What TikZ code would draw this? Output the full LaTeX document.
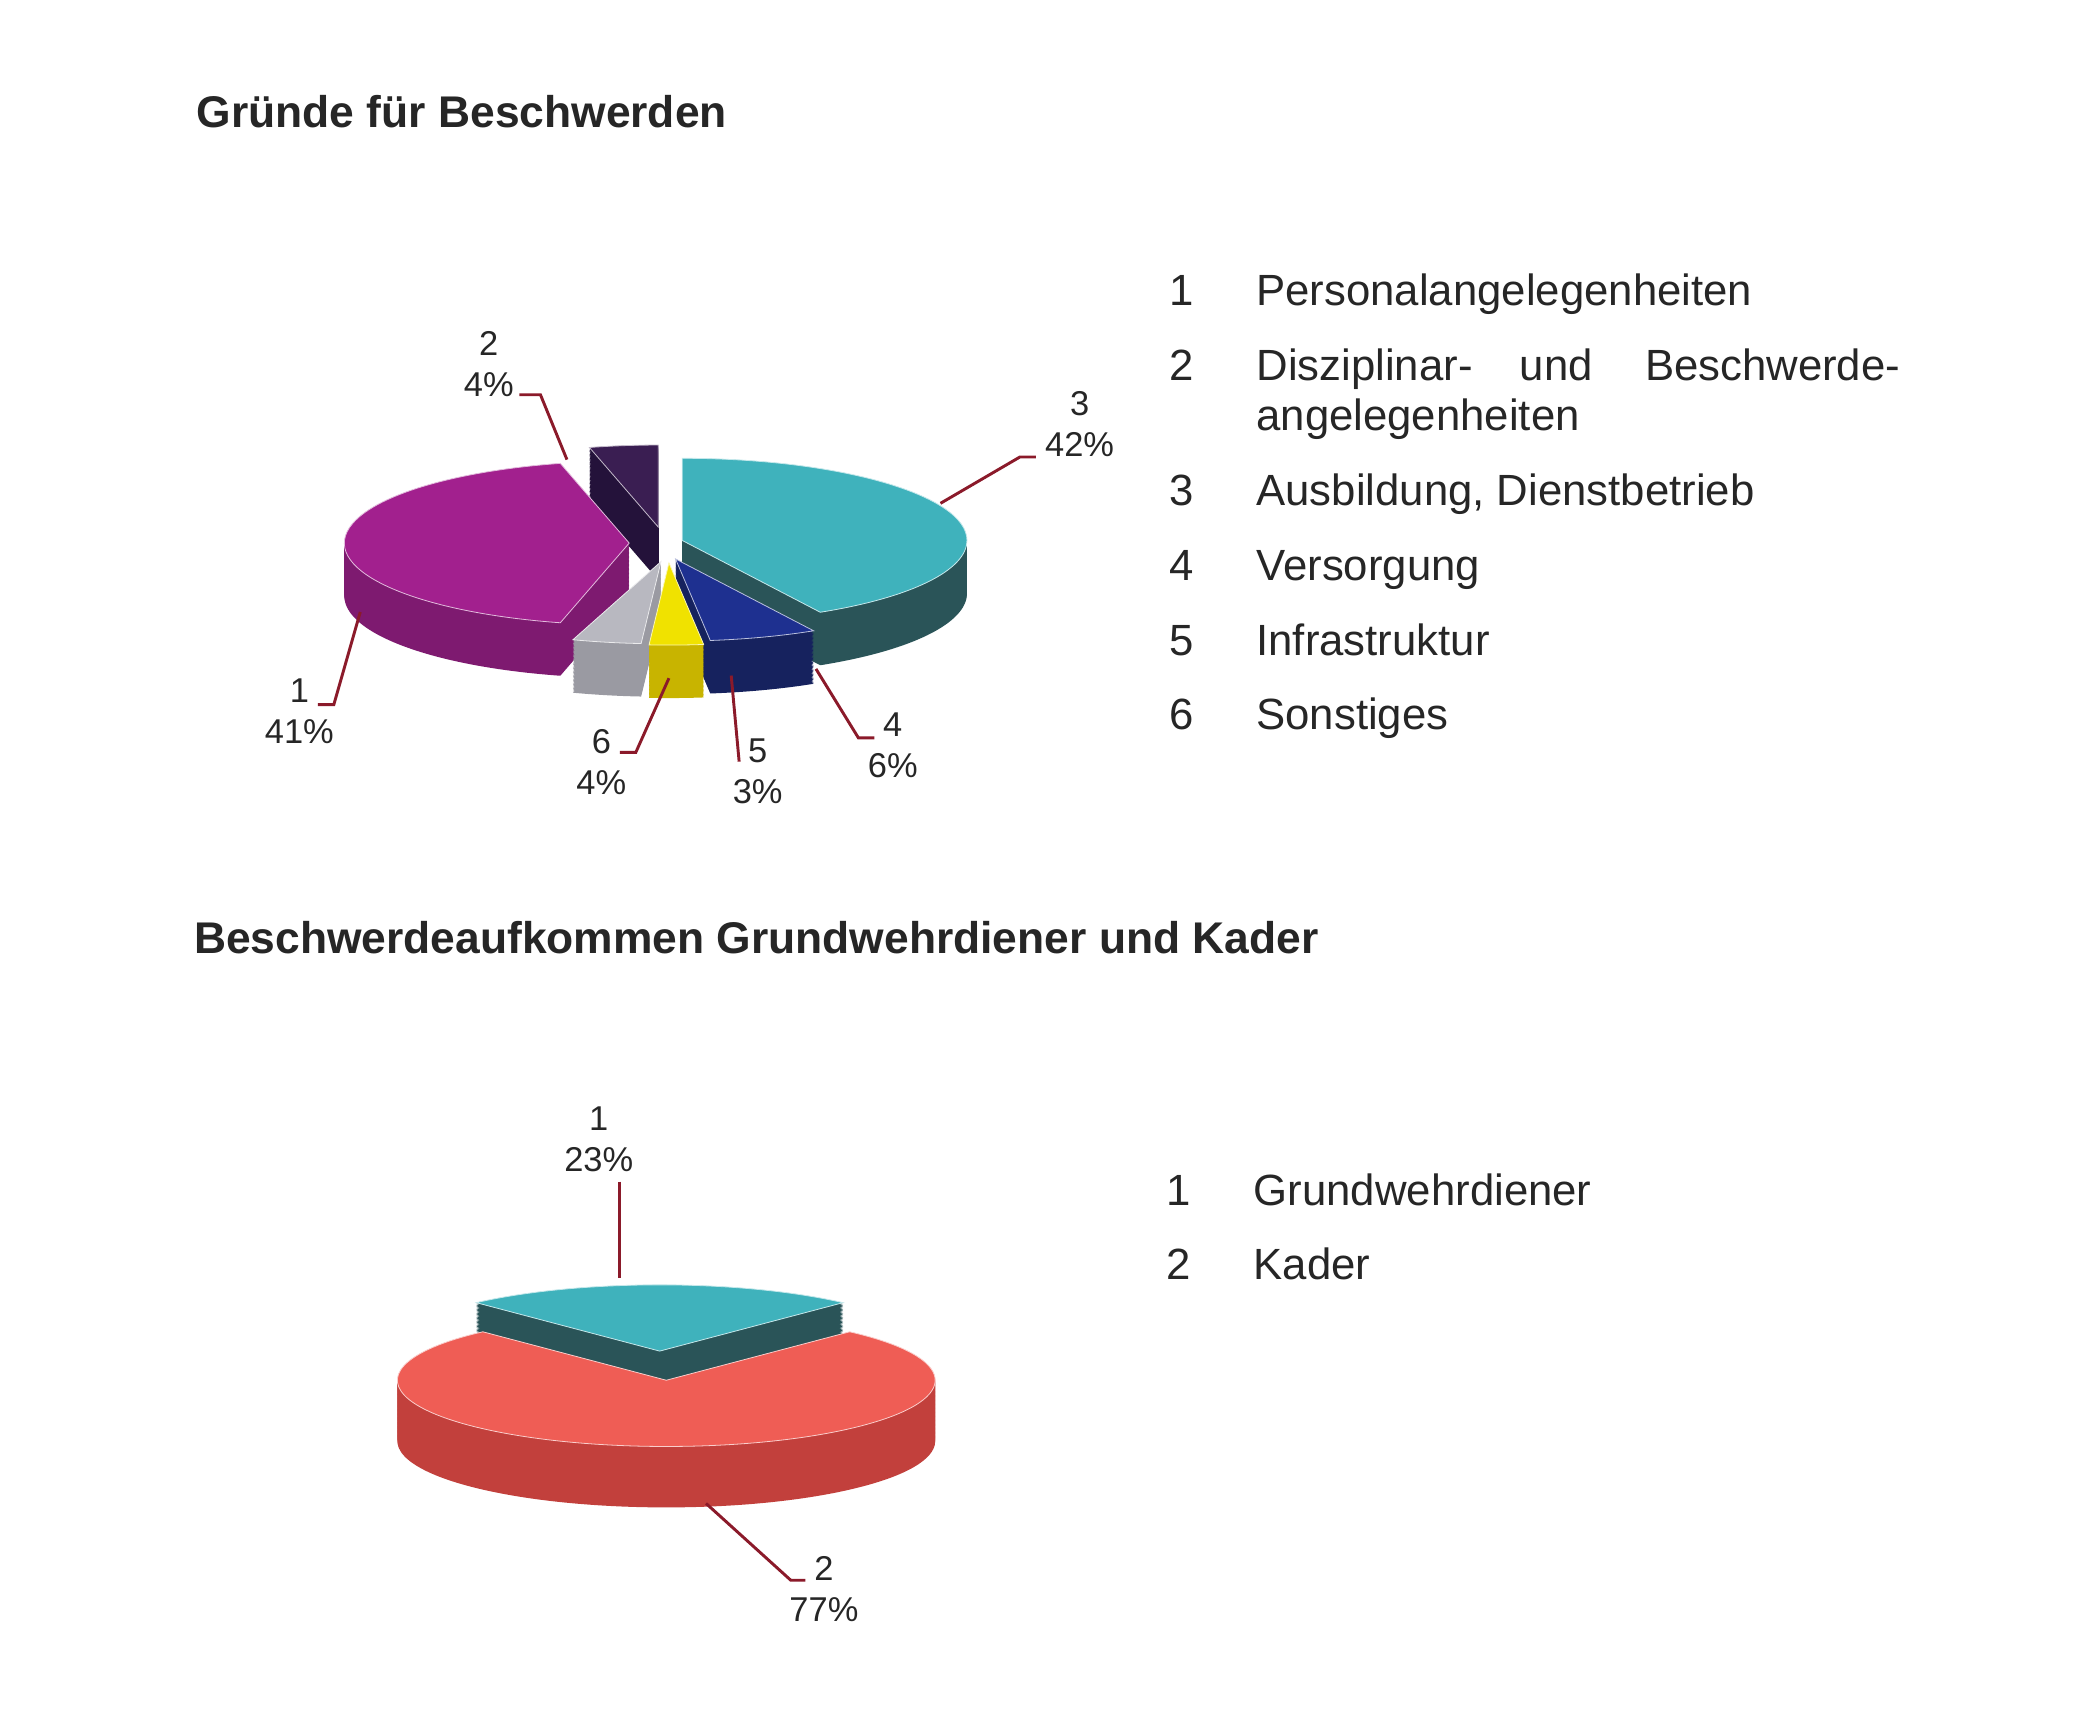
\documentclass[tikz,border=0pt]{standalone}
\usepackage{fontspec}
\setmainfont{Liberation Sans}
\definecolor{lead}{HTML}{8B1A2A}
\definecolor{cyT}{HTML}{3FB2BC}\definecolor{cyS}{HTML}{2A5458}
\definecolor{mgT}{HTML}{A2208E}\definecolor{mgS}{HTML}{7E1A70}
\definecolor{puT}{HTML}{3A1E52}\definecolor{puS}{HTML}{24123A}
\definecolor{nvT}{HTML}{1E3090}\definecolor{nvS}{HTML}{16225E}
\definecolor{yeT}{HTML}{F0E200}\definecolor{yeS}{HTML}{C8B400}
\definecolor{grT}{HTML}{B8B8C0}\definecolor{grS}{HTML}{9A9AA2}
\definecolor{rdT}{HTML}{EF5D55}\definecolor{rdS}{HTML}{C2403C}
\newcommand\pslice[6]{%
  \foreach \k in {1,...,\pdp}{%
    \fill[#6,shift={(#1,#2-\k)}] (\pcx,\pcy) -- ++(#3:\prx\space and \pry) arc[start angle=#3,end angle=#4,x radius=\prx,y radius=\pry] -- cycle;}
  \fill[#5,draw=white!70!#5,line width=0.6pt,shift={(#1,#2)}] (\pcx,\pcy) -- ++(#3:\prx\space and \pry) arc[start angle=#3,end angle=#4,x radius=\prx,y radius=\pry] -- cycle;}
\begin{document}
\begin{tikzpicture}[x=1pt,y=1pt,
  title/.style={anchor=base west,font=\fontsize{33.5}{36}\selectfont\bfseries,text=black!85},
  legend/.style={anchor=base west,font=\fontsize{33}{38}\selectfont,text=black!85},
  lbl/.style={align=center,font=\fontsize{26}{31}\selectfont,text=black!85,inner sep=1pt},
  leader/.style={lead,line width=2.2pt}]
\useasboundingbox (0,0) rectangle (1568,1300);
\fill[white] (0,0) rectangle (1568,1300);
\node[title] (t1) at (145,1204) {Gründe für Beschwerden};
\node[title] (t2) at (143,580) {Beschwerdeaufkommen Grundwehrdiener und Kader};
% pie 1
\def\pcx{505}\def\pcy{888}\def\prx{215}\def\pry{62}\def\pdp{40}
\pslice{-8}{14}{104}{90}{puT}{puS}
\pslice{10}{4}{90}{-61}{cyT}{cyS}
\pslice{-30}{2}{256}{104}{mgT}{mgS}
\pslice{5}{-10}{-61}{-83}{nvT}{nvS}
\pslice{-6}{-12}{-94}{-108}{grT}{grS}
\pslice{0}{-13}{-83}{-94}{yeT}{yeS}
% labels pie 1
\node[lbl] (l2) at (369,1025) {2\\4\%};
\coordinate (e2) at (428,953);
\draw[leader] (392,1002) -- (408,1002) -- (e2);
\node[lbl] (l3) at (815,980) {3\\42\%};
\coordinate (e3) at (710,920);
\draw[leader] (782,955) -- (770,955) -- (e3);
\node[lbl] (l1) at (226,763) {1\\41\%};
\coordinate (e1) at (272,838);
\draw[leader] (240,768) -- (252,768) -- (e1);
\node[lbl] (l6) at (454,725) {6\\4\%};
\coordinate (e6) at (505,788);
\draw[leader] (468,732) -- (480,732) -- (e6);
\node[lbl] (l5) at (572,718) {5\\3\%};
\coordinate (e5) at (552,790);
\draw[leader] (558,725) -- (e5);
\node[lbl] (l4) at (674,737) {4\\6\%};
\coordinate (e4) at (616,795);
\draw[leader] (660,743) -- (648,743) -- (e4);
% legend 1
\foreach \n/\yy in {1/1069,2/1013,3/918,4/862,5/805,6/749}{\node[legend] (n\n) at (879,\yy) {\n};}
\node[legend] (g1) at (945,1069) {Personalangelegenheiten};
\node[legend] (g2a) at (945,1013) {Disziplinar-};
\node[legend,anchor=base] (g2b) at (1175,1013) {und};
\node[legend,anchor=base east] (g2c) at (1438,1013) {Beschwerde-};
\node[legend] (g2d) at (945,975) {angelegenheiten};
\node[legend] (g3) at (945,918) {Ausbildung, Dienstbetrieb};
\node[legend] (g4) at (945,862) {Versorgung};
\node[legend] (g5) at (945,805) {Infrastruktur};
\node[legend] (g6) at (945,749) {Sonstiges};
% pie 2
\def\pcx{503}\def\pcy{258}\def\prx{203}\def\pry{50}\def\pdp{46}
\pslice{-5}{22}{133}{47}{cyT}{cyS}
\pslice{0}{0}{47}{-227}{rdT}{rdS}
\node[lbl] (m1) at (452,440) {1\\23\%};
\coordinate (f1) at (468,335);
\draw[leader] (468,408) -- (f1);
\node[lbl] (m2) at (622,100) {2\\77\%};
\coordinate (f2) at (533,165);
\draw[leader] (608,107) -- (597,107) -- (f2);
\node[legend] (q1) at (877,390) {1};
\node[legend] (q2) at (877,334) {2};
\node[legend] (k1) at (943,390) {Grundwehrdiener};
\node[legend] (k2) at (943,334) {Kader};
\end{tikzpicture}
\end{document}
